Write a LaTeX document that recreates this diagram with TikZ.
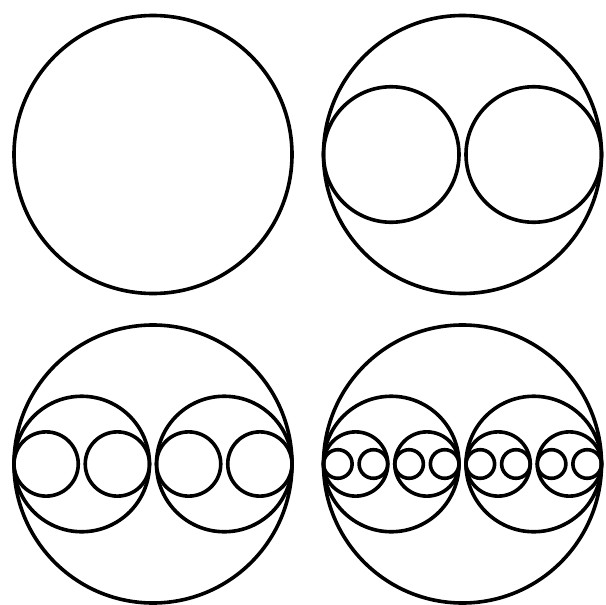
\documentclass[tikz,border=0pt]{standalone}
\usepackage{tikz}
\usetikzlibrary{calc}

\begin{document}
\begin{tikzpicture}[
  x=1pt, y=-1pt,
  ring/.style={circle, draw=black, line width=3.6pt, inner sep=0pt, minimum size=#1},
]
\useasboundingbox (0,0) rectangle (605,605);
% one panel per level of splitting
\coordinate (a) at (153,154.5);
\coordinate (b) at (462.5,154.5);
\coordinate (c) at (153,464);
\coordinate (d) at (462.5,464);

% level 0: outer ring
\foreach \p in {a,b,c,d} \node[ring=278pt] (\p0) at (\p) {};

% level 1
\foreach \p in {b,c,d}
  \foreach \s/\n in {-1/l,1/r}
    \node[ring=135.5pt] (\p\n) at ($(\p)+(\s*71.25,0)$) {};

% level 2
\foreach \p in {cl,cr,dl,dr}
  \foreach \s/\n in {-1/l,1/r}
    \node[ring=64.25pt] (\p\n) at ($(\p)+(\s*35.625,0)$) {};

% level 3
\foreach \p in {dll,dlr,drl,drr}
  \foreach \s/\n in {-1/l,1/r}
    \node[ring=28.6pt] (\p\n) at ($(\p)+(\s*17.8,0)$) {};
\end{tikzpicture}
\end{document}
